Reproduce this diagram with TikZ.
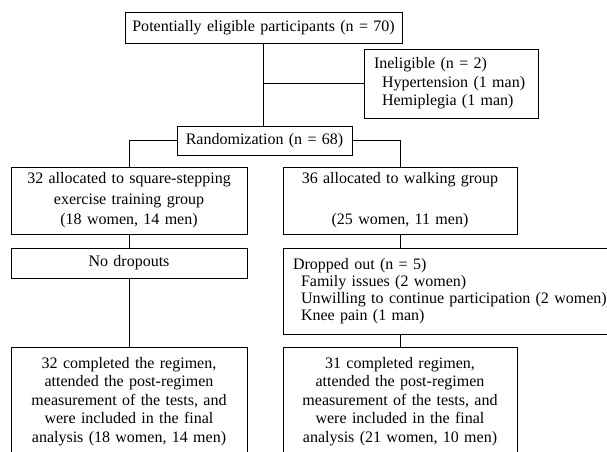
\documentclass[tikz,border=0pt]{standalone}
\usepackage{fontspec}
\setmainfont{Liberation Serif}
\tikzset{box/.style={draw,line width=1pt,inner sep=0pt,align=center,font=\fontsize{16}{18.5}\selectfont},
  leftbox/.style={box,inner xsep=10pt,align=left}}

\begin{document}
\begin{tikzpicture}[x=1pt,y=-1pt,line width=1pt]
      \clip (0,0) rectangle (607,451);
      \node[box,text width=277pt,minimum height=31pt] (elig) at (263.5,27.5) {Potentially eligible participants (n = 70)};
      \node[leftbox,text width=154pt,minimum height=69pt] (inelig) at (451,83.5) {Ineligible (n = 2)\\\hspace*{8pt}Hypertension (1 man)\\\hspace*{8pt}Hemiplegia (1 man)};
      \node[box,text width=175pt,minimum height=29pt] (rand) at (264.5,140.5) {Randomization (n = 68)};
      \node[box,text width=236pt,minimum height=67pt,font=\fontsize{16}{20.5}\selectfont] (sse) at (129,200.5) {32 allocated to square-stepping\\exercise training group\\(18 women, 14 men)};
      \node[box,text width=234pt,minimum height=67pt,font=\fontsize{16}{20.5}\selectfont] (walk) at (400,200.5) {36 allocated to walking group\\[20.5pt](25 women, 11 men)};
      \node[box,text width=236pt,minimum height=30pt] (nodrop) at (129,263) {No dropouts};
      \node[leftbox,text width=317pt,minimum height=86pt,font=\fontsize{16}{17}\selectfont] (drop) at (451.5,291) {Dropped out (n = 5)\\\hspace*{8pt}Family issues (2 women)\\\hspace*{8pt}Unwilling to continue participation (2 women)\\\hspace*{8pt}Knee pain (1 man)};
      \node[box,text width=236pt,minimum height=109pt] (fin1) at (129,401.5) {32 completed the regimen,\\attended the post-regimen\\measurement of the tests, and\\were included in the final\\analysis (18 women, 14 men)};
      \node[box,text width=234pt,minimum height=109pt] (fin2) at (400,401.5) {31 completed regimen,\\attended the post-regimen\\measurement of the tests, and\\were included in the final\\analysis (21 women, 10 men)};

\draw (elig.south) -- (elig.south |- rand.north);
\draw (elig.south |- inelig.west) -- (inelig.west);
\draw (rand.west) -| (sse.north);
\draw (rand.east) -| (walk.north);
\foreach \a/\b in {sse/nodrop,nodrop/fin1}
  \draw (\a) -- (\b);
\draw (walk.south) -- (walk.south |- drop.north);
\draw (fin2.north |- drop.south) -- (fin2.north);
    \end{tikzpicture}
\end{document}
